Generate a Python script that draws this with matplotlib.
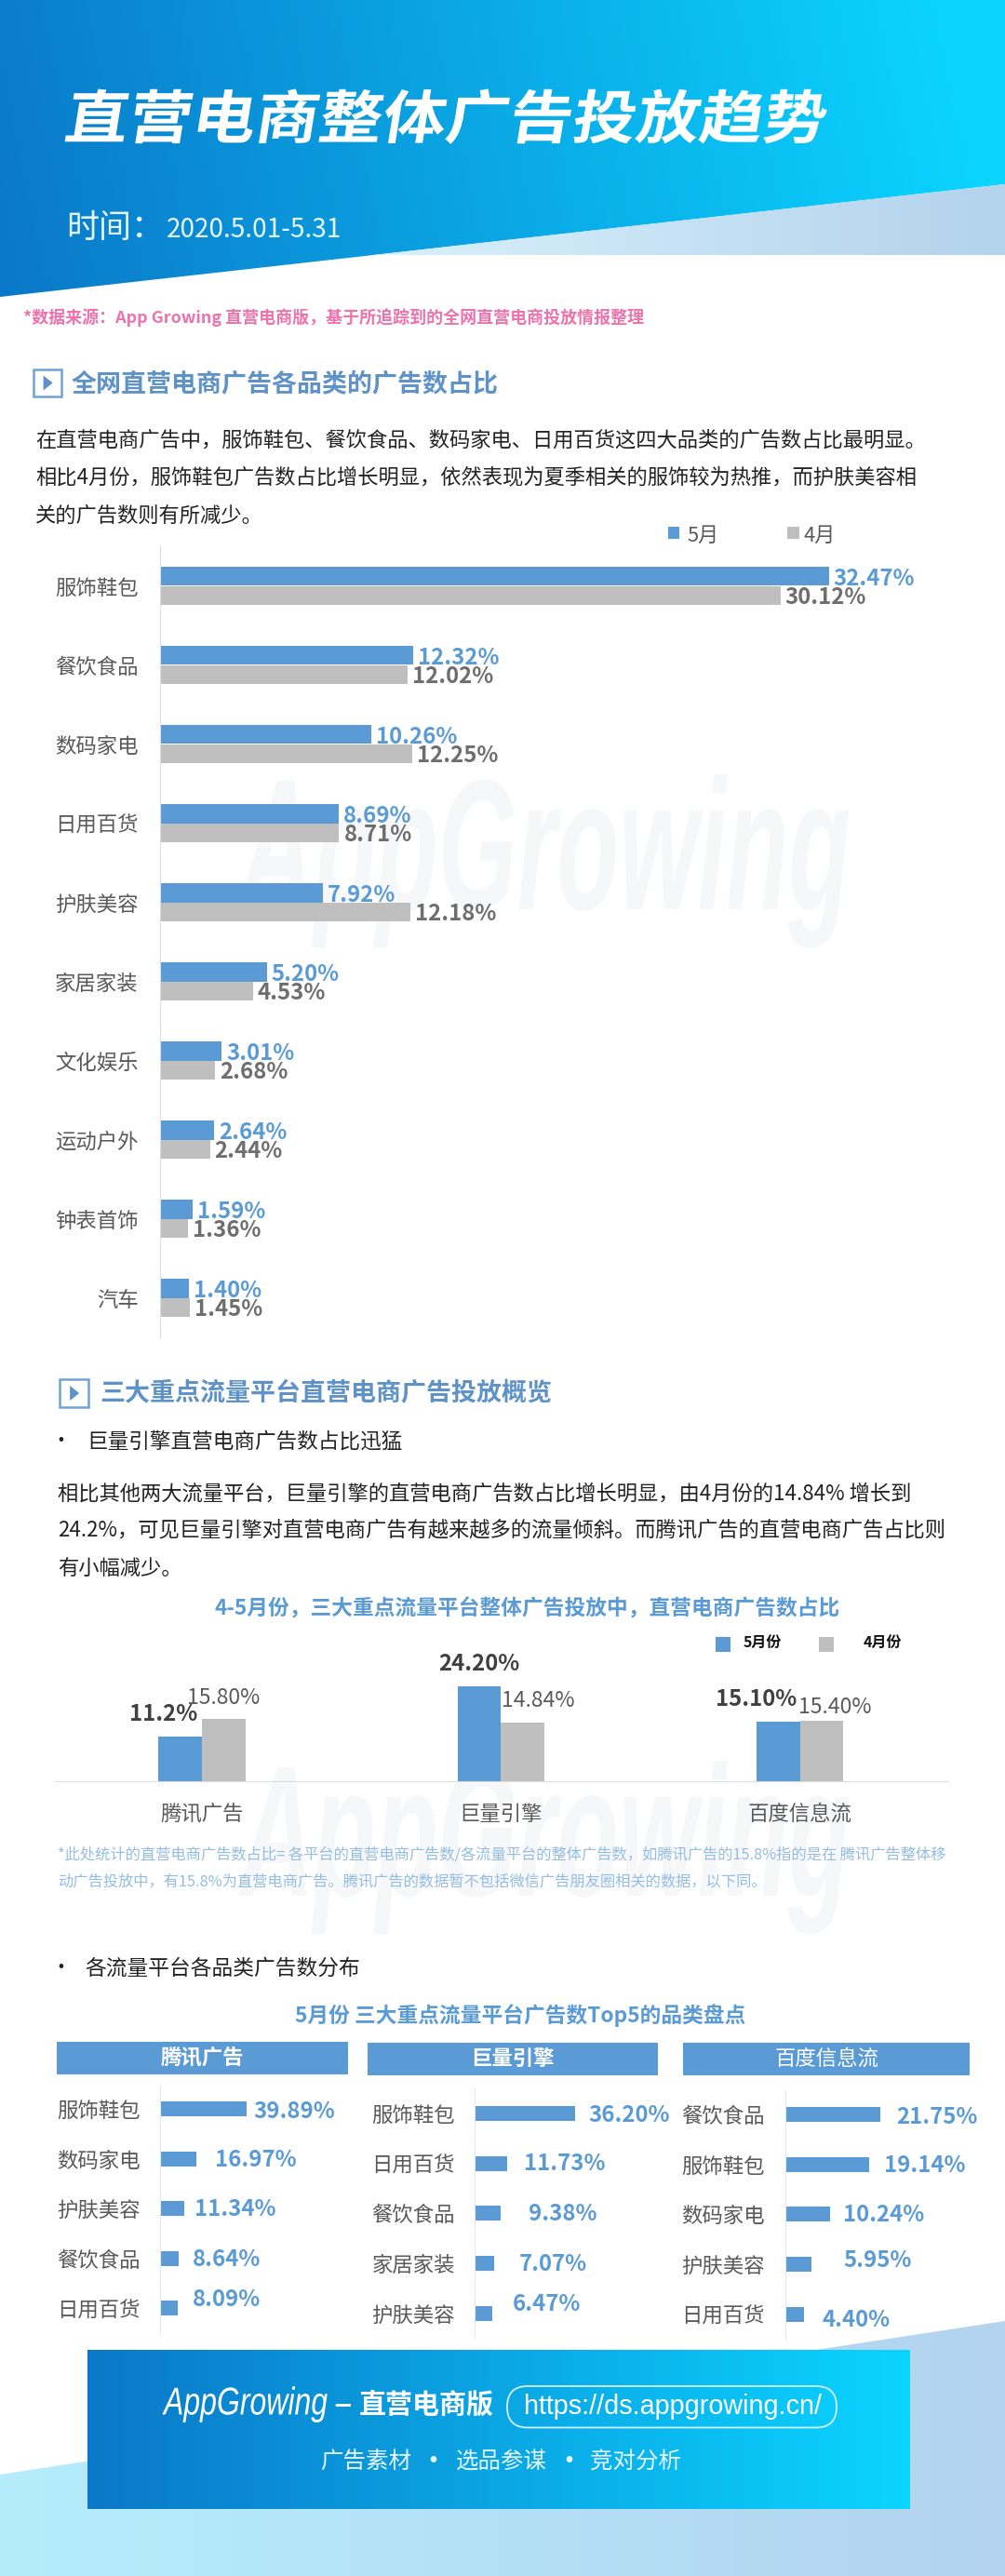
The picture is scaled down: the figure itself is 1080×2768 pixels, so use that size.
import matplotlib
matplotlib.use('Agg')
import matplotlib.pyplot as plt
import matplotlib.patheffects as pe
from matplotlib.colors import LinearSegmentedColormap
from matplotlib.patches import Polygon, Rectangle, FancyBboxPatch
from matplotlib.transforms import Affine2D
import numpy as np

plt.rcParams['font.family'] = ['Noto Sans CJK SC', 'DejaVu Sans']

W, H = 1080, 2768

# chart values
categories = ['服饰鞋包', '餐饮食品', '数码家电', '日用百货', '护肤美容',
              '家居家装', '文化娱乐', '运动户外', '钟表首饰', '汽车']
may_share = [32.47, 12.32, 10.26, 8.69, 7.92, 5.20, 3.01, 2.64, 1.59, 1.40]
apr_share = [30.12, 12.02, 12.25, 8.71, 12.18, 4.53, 2.68, 2.44, 1.36, 1.45]

platforms = ['腾讯广告', '巨量引擎', '百度信息流']
may_platform = [11.2, 24.20, 15.10]
apr_platform = [15.80, 14.84, 15.40]
may_platform_labels = ['11.2%', '24.20%', '15.10%']
apr_platform_labels = ['15.80%', '14.84%', '15.40%']

tencent_cats = ['服饰鞋包', '数码家电', '护肤美容', '餐饮食品', '日用百货']
tencent_vals = [39.89, 16.97, 11.34, 8.64, 8.09]
juliang_cats = ['服饰鞋包', '日用百货', '餐饮食品', '家居家装', '护肤美容']
juliang_vals = [36.20, 11.73, 9.38, 7.07, 6.47]
baidu_cats = ['餐饮食品', '服饰鞋包', '数码家电', '护肤美容', '日用百货']
baidu_vals = [21.75, 19.14, 10.24, 5.95, 4.40]

BLUE = '#5b9bd5'
GREY = '#bfbfbf'
LABEL = '#595959'
AXIS = '#dddddd'
DEEP = '#0a78c8'
CYAN = '#0bd4ff'


def fs(px):
    # font size in points from a size in pixels (dpi 100)
    return px * 0.72


class Slant(pe.AbstractPathEffect):
    """Slant and stretch text around a point given in page pixels"""
    def __init__(self, x, y, shear=0.0, stretch=1.0, tall=1.0):
        self.x = x
        self.y = H - y
        self.shear = shear
        self.stretch = stretch
        self.tall = tall

    def draw_path(self, renderer, gc, tpath, affine, rgbFace=None):
        m = (Affine2D().translate(-self.x, -self.y)
             .scale(self.stretch, self.tall)
             .skew(np.arctan(self.shear), 0)
             .translate(self.x, self.y))
        renderer.draw_path(gc, tpath, affine + m, rgbFace)


fig = plt.figure(figsize=(W / 100, H / 100), dpi=100, facecolor='white')
page = fig.add_axes([0, 0, 1, 1], zorder=0)
page.set_xlim(0, W)
page.set_ylim(H, 0)
page.axis('off')


def gradient(x0, y0, x1, y1, c0, c1, shape=None, tilt=0.0):
    cmap = LinearSegmentedColormap.from_list('g', [c0, c1])
    xx, yy = np.meshgrid(np.linspace(0, 1, 256), np.linspace(0, 1, 64))
    im = page.imshow(xx + tilt * (1 - yy), extent=(x0, x1, y1, y0), cmap=cmap, vmin=0, vmax=1,
                     aspect='auto', zorder=1)
    if shape is not None:
        patch = Polygon(shape, closed=True, transform=page.transData, fc='none', ec='none')
        page.add_patch(patch)
        im.set_clip_path(patch)


def txt(x, y, s, px, color='#222222', weight='normal', ha='left', **kw):
    return page.text(x, y, s, fontsize=fs(px), color=color, fontweight=weight, ha=ha,
                     va='center', zorder=5, **kw)


def chart_axes(x0, y0, x1, y1):
    ax = fig.add_axes([x0 / W, 1 - y1 / H, (x1 - x0) / W, (y1 - y0) / H], zorder=2)
    ax.patch.set_alpha(0)
    for side in ['top', 'right', 'bottom', 'left']:
        ax.spines[side].set_visible(False)
    ax.tick_params(length=0)
    ax.set_xticks([])
    return ax


def section_icon(x0, y0, x1, y1):
    page.add_patch(Rectangle((x0, y0), x1 - x0, y1 - y0, fc='white', ec='#6fa3d6', lw=1.8, zorder=4))
    cx, cy = x0 + (x1 - x0) * 0.36, (y0 + y1) / 2
    page.add_patch(Polygon([(cx, cy - 8), (cx, cy + 8), (cx + 10, cy)], fc='#5f93c8', ec='none', zorder=4))


# header
gradient(0, 0, W, 320, DEEP, CYAN, [(0, 0), (W, 0), (W, 198), (0, 319)], tilt=0.06)
gradient(401, 198, W, 274, '#d8f1fb', '#b3d2ec', [(401, 274), (W, 198), (W, 274)])
t = txt(66, 130, '直营电商整体广告投放趋势', 62, color='white', weight='bold')
t.set_path_effects([Slant(66, 157, shear=0.16, stretch=1.1)])
txt(71, 245, '时间：', 35, color='#e6f6fd')
txt(179, 247, '2020.5.01-5.31', 28, color='#e6f6fd')
txt(25, 341, '*数据来源：App Growing 直营电商版，基于所追踪到的全网直营电商投放情报整理', 18,
    color='#ee72ab', weight='bold')

# footer background
gradient(0, 2494, W, H, '#b5edfd', '#b3d3ee', [(0, 2659), (W, 2494), (W, H), (0, H)])

# watermarks, tall and narrow like the logo
for wy in [925, 1985]:
    w = page.text(258, wy, 'AppGrowing', fontsize=fs(135), color='#f5f7f9', ha='left', va='center',
                  family='Liberation Sans', fontstyle='italic', fontweight='bold', zorder=1.5)
    w.set_path_effects([Slant(258, wy, stretch=0.81, tall=1.48)])

# section 1 text
section_icon(36, 397, 65.5, 426)
txt(77, 413, '全网直营电商广告各品类的广告数占比', 27, color='#5f93c8', weight='bold')
txt(38, 473, '在直营电商广告中，服饰鞋包、餐饮食品、数码家电、日用百货这四大品类的广告数占比最明显。', 22.3)
txt(38, 513, '相比4月份，服饰鞋包广告数占比增长明显，依然表现为夏季相关的服饰较为热推，而护肤美容相', 22.3)
txt(38, 554, '关的广告数则有所减少。', 22.3)

page.add_patch(Rectangle((717.5, 566), 12.5, 13, fc=BLUE, ec='none', zorder=4))
txt(738, 576, '5月', 22, color=LABEL)
page.add_patch(Rectangle((846, 566), 12.5, 13, fc=GREY, ec='none', zorder=4))
txt(864, 576, '4月', 22, color=LABEL)

# main bars
ax1 = chart_axes(171.5, 587, 1040, 1437)
pos = np.arange(len(categories))
ax1.barh(pos - 0.12, may_share, height=0.24, color=BLUE)
ax1.barh(pos + 0.12, apr_share, height=0.24, color=GREY)
ax1.set_xlim(0, (1040 - 171.5) / 22.15)
ax1.set_ylim(len(categories) - 0.5, -0.5)
ax1.set_yticks(pos, categories, fontsize=fs(22.4), color=LABEL)
ax1.tick_params(axis='y', pad=fs(23))
ax1.spines['left'].set_visible(True)
ax1.spines['left'].set_color(AXIS)
for i in range(len(categories)):
    ax1.annotate('%.2f%%' % may_share[i], (may_share[i], i - 0.12), xytext=(fs(5), fs(-3)),
                 textcoords='offset points', va='center', fontsize=fs(24), color=BLUE, fontweight='bold')
    ax1.annotate('%.2f%%' % apr_share[i], (apr_share[i], i + 0.12), xytext=(fs(5), fs(-2)),
                 textcoords='offset points', va='center', fontsize=fs(24), color='#6e6e6e', fontweight='bold')

# section 2 text
section_icon(64, 1482, 95, 1512)
txt(107, 1497, '三大重点流量平台直营电商广告投放概览', 27, color='#5f93c8', weight='bold')
txt(65, 1549, '•', 22, ha='center')
txt(93, 1549, '巨量引擎直营电商广告数占比迅猛', 22.6)
txt(62, 1605, '相比其他两大流量平台，巨量引擎的直营电商广告数占比增长明显，由4月份的14.84% 增长到', 22.3)
txt(62, 1644, '24.2%，可见巨量引擎对直营电商广告有越来越多的流量倾斜。而腾讯广告的直营电商广告占比则', 22.3)
txt(62, 1685, '有小幅减少。', 22.3)
txt(567, 1729, '4-5月份，三大重点流量平台整体广告投放中，直营电商广告数占比', 22.7, color=BLUE, weight='bold', ha='center')

page.add_patch(Rectangle((769, 1759), 16, 16, fc=BLUE, ec='none', zorder=4))
txt(799, 1764.5, '5月份', 16, color='#111111', weight='bold')
page.add_patch(Rectangle((880, 1759), 16, 16, fc=GREY, ec='none', zorder=4))
txt(928, 1764.5, '4月份', 16, color='#111111', weight='bold')

# platform bars
ax2 = chart_axes(58.5, 1780, 1019, 1913.5)
xs = np.arange(len(platforms))
ax2.bar(xs - 0.0725, may_platform, width=0.145, color=BLUE)
ax2.bar(xs + 0.0725, apr_platform, width=0.145, color=GREY)
ax2.set_xlim(-0.493, 2.495)
ax2.set_ylim(0, (1913.5 - 1780) / 4.2)
ax2.set_yticks([])
ax2.set_xticks(xs, platforms, fontsize=fs(22.4), color=LABEL)
ax2.tick_params(axis='x', pad=fs(24))
ax2.spines['bottom'].set_visible(True)
ax2.spines['bottom'].set_color(AXIS)
may_off = [(-18.5, 24), (0, 24), (-23.5, 24)]
apr_off = [(0, 23), (17, 24), (14, 14)]
for i in range(len(platforms)):
    ax2.annotate(may_platform_labels[i], (i - 0.0725, may_platform[i]),
                 xytext=(fs(may_off[i][0]), fs(may_off[i][1])), textcoords='offset points',
                 ha='center', va='center', fontsize=fs(24), color='#404040', fontweight='bold',
                 annotation_clip=False)
    ax2.annotate(apr_platform_labels[i], (i + 0.0725, apr_platform[i]),
                 xytext=(fs(apr_off[i][0]), fs(apr_off[i][1])), textcoords='offset points',
                 ha='center', va='center', fontsize=fs(23), color=LABEL, annotation_clip=False)

txt(62, 1993, '*此处统计的直营电商广告数占比= 各平台的直营电商广告数/各流量平台的整体广告数，如腾讯广告的15.8%指的是在 腾讯广告整体移',
    16.3, color='#93bde3')
txt(62, 2022, '动广告投放中，有15.8%为直营电商广告。腾讯广告的数据暂不包括微信广告朋友圈相关的数据，以下同。',
    16.3, color='#93bde3')

# section 3
txt(65, 2115, '•', 22, ha='center')
txt(91, 2115, '各流量平台各品类广告数分布', 22.7)
txt(559, 2165.5, '5月份 三大重点流量平台广告数Top5的品类盘点', 22.7, color=BLUE, weight='bold', ha='center')

headers = [(60.5, 2193.5, 374, 2229, '腾讯广告', 'bold'),
           (394.5, 2195, 707, 2230, '巨量引擎', 'bold'),
           (734, 2195, 1042, 2230, '百度信息流', 'normal')]
for x0, y0, x1, y1, name, weight in headers:
    page.add_patch(Rectangle((x0, y0), x1 - x0, y1 - y0, fc=BLUE, ec='none', zorder=4))
    txt((x0 + x1) / 2, (y0 + y1) / 2, name, 22.4, color='white', weight=weight, ha='center')

panels = [
    (tencent_cats, tencent_vals, 172, 2241, 2507.6, 2.32, 2266, 53.6, 21,
     [(8, 3), (20, 1), (10.4, 1), (14.6, 1), (15.8, -9)]),
    (juliang_cats, juliang_vals, 510, 2244, 2512, 2.97, 2271, 53.7, 21,
     [(14.7, 2), (18.6, 0), (30.3, 1), (26.9, 1.3), (21.8, -9.6)]),
    (baidu_cats, baidu_vals, 843.6, 2246, 2514, 4.72, 2272, 53.7, 22,
     [(17.2, 3), (16.5, 1), (14.4, 1), (34.6, -4.4), (19.2, 5.7)]),
]
for cats, vals, ax_x, y_top, y_bot, per_unit, first_y, step, pad, offs in panels:
    ax = chart_axes(ax_x, y_top, ax_x + 190, y_bot)
    rows = np.arange(len(cats))
    ax.barh(rows, vals, height=16 / step, color=BLUE)
    ax.set_xlim(0, 190 / per_unit)
    ax.set_ylim((y_bot - first_y) / step, (y_top - first_y) / step)
    ax.set_yticks(rows, cats, fontsize=fs(22.4), color=LABEL)
    ax.tick_params(axis='y', pad=fs(pad))
    ax.spines['left'].set_visible(True)
    ax.spines['left'].set_color('#e6e6e6')
    for i in rows:
        ax.annotate('%.2f%%' % vals[i], (vals[i], i), xytext=(fs(offs[i][0]), fs(-offs[i][1])),
                    textcoords='offset points', va='center', fontsize=fs(24), color=BLUE,
                    fontweight='bold', annotation_clip=False)

# footer box
gradient(94, 2525, 978, 2696, DEEP, CYAN)
logo = page.text(176, 2584, 'AppGrowing', fontsize=fs(32), color='white', ha='left', va='center',
                 family='Liberation Sans', fontstyle='italic', zorder=5)
logo.set_path_effects([Slant(176, 2584, tall=1.3)])
txt(358, 2584, '–', 36, color='white', weight='bold')
txt(386, 2584, '直营电商版', 29, color='white', weight='bold')
page.add_patch(FancyBboxPatch((545, 2564), 354, 44.5, boxstyle='round,pad=0,rounding_size=22',
                              fc='none', ec='#cfeffc', lw=1.3, zorder=5))
page.text(723, 2586, 'https://ds.appgrowing.cn/', fontsize=fs(28.7), color='white', ha='center', va='center',
          family='Liberation Sans', zorder=5)
txt(393, 2646, '广告素材', 24.5, color='#e6f6fd', ha='center')
txt(465.5, 2646, '•', 32, color='#e6f6fd', ha='center')
txt(538.5, 2646, '选品参谋', 24.5, color='#e6f6fd', ha='center')
txt(611.5, 2646, '•', 32, color='#e6f6fd', ha='center')
txt(683, 2646, '竞对分析', 24.5, color='#e6f6fd', ha='center')

fig.savefig('out.png', dpi=100, facecolor='white')
